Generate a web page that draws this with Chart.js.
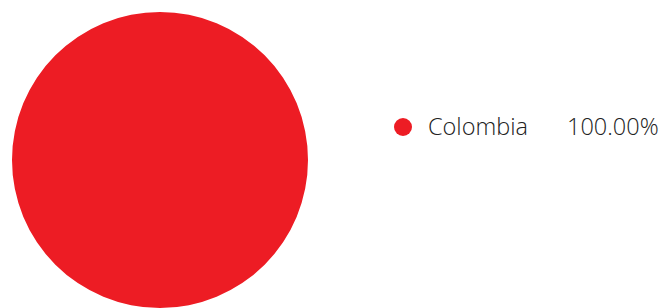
<!DOCTYPE html>
<html>
<head>
<meta charset="utf-8">
<script src="https://cdn.jsdelivr.net/npm/chart.js@4.4.1/dist/chart.umd.min.js"></script>
<style>
  html, body { margin: 0; padding: 0; background: #fff; }
  #wrap { position: relative; width: 664px; height: 308px; overflow: hidden; }
  #chartBox { position: absolute; left: 0; top: 0; width: 320px; height: 308px; }
  #legend { position: absolute; left: 394px; top: 109px; font-family: "Open Sans", sans-serif; font-weight: 300; color: #222; }
  #legend .row { display: flex; align-items: center; height: 34px; white-space: nowrap; }
  #legend .dot { width: 18px; height: 18px; border-radius: 50%; margin-right: 16px; margin-top: 2px; }
  #legend .name { font-size: 23.5px; width: 139px; }
  #legend .pct { font-size: 23.5px; }
</style>
</head>
<body>
<div id="wrap">
  <div id="chartBox"><canvas id="pieChart"></canvas></div>
  <div id="legend"></div>
</div>
<script>
var countries = ['Colombia'];
var shares = [100];
var colors = ['#ed1c24'];

var total = shares.reduce(function (a, b) { return a + b; }, 0);

// legend on the right
var legendHtml = '';
for (var i in countries) {
    legendHtml += '<div class="row"><span class="dot" style="background:' + colors[i] + '"></span>' +
        '<span class="name">' + countries[i] + '</span>' +
        '<span class="pct">' + (shares[i] / total * 100).toFixed(2) + '%</span></div>';
}
document.getElementById('legend').innerHTML = legendHtml;

var pieChart = new Chart(document.getElementById('pieChart').getContext('2d'), {
    type: 'pie',
    data: {
        labels: countries,
        datasets: [{
            data: shares,
            backgroundColor: colors,
            borderWidth: 0
        }]
    },
    options: {
        responsive: true,
        maintainAspectRatio: false,
        animation: false,
        layout: { padding: { top: 12, bottom: 0, left: 12, right: 12 } },
        plugins: {
            legend: { display: false },
            tooltip: { enabled: false }
        }
    }
});
</script>
</body>
</html>
